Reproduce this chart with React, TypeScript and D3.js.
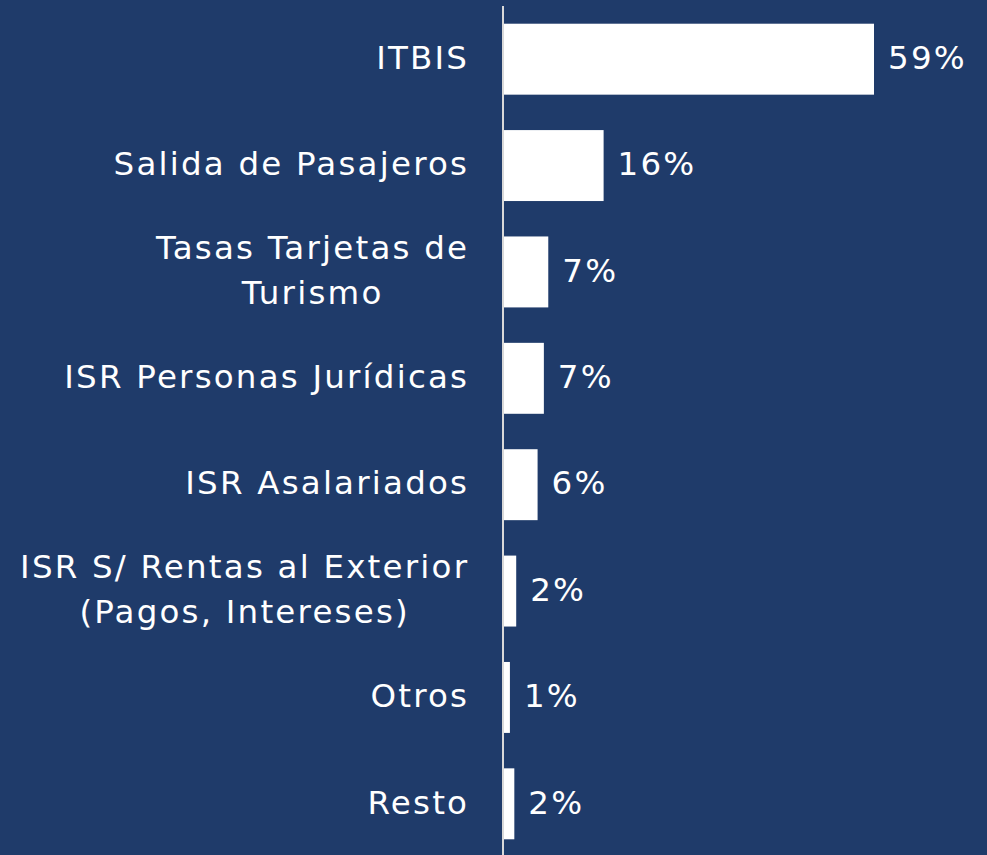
import React from "react";
import * as d3 from "d3";

const categories: string[][] = [
  ["ITBIS"],
  ["Salida de Pasajeros"],
  ["Tasas Tarjetas de", "Turismo"],
  ["ISR Personas Jurídicas"],
  ["ISR Asalariados"],
  ["ISR S/ Rentas al Exterior", "(Pagos, Intereses)"],
  ["Otros"],
  ["Resto"],
];
const values: number[] = [59.0, 16.0, 7.2, 6.5, 5.5, 2.1, 1.1, 1.8];
const valueLabels: string[] = ["59%", "16%", "7%", "7%", "6%", "2%", "1%", "2%"];

const W = 987;
const H = 855;
const BG = "#1F3B6A";
const FONT = "'DejaVu Sans', sans-serif";
const FS = 32.5;
const LS = 2.2;

function measure(text: string): number {
  const c = document.createElement("canvas").getContext("2d");
  const n = text.length;
  if (!c) return text.length * FS * 0.6 + LS * (n - 1);
  c.font = `${FS}px ${FONT}`;
  return c.measureText(text).width + LS * (n - 1);
}

export default function App() {
  const axisX = 503;
  const x = d3.scaleLinear().domain([0, 59]).range([axisX, 874]);
  const y = d3
    .scaleBand<number>()
    .domain(d3.range(categories.length))
    .range([6, 857])
    .paddingInner(0.333)
    .paddingOuter(0.1665);
  const labelRight = 467;
  const lineH = 45;

  return (
    <svg
      width={W}
      height={H}
      style={{ position: "absolute", left: 0, top: 0, display: "block" }}
    >
      <rect x={0} y={0} width={W} height={H} fill={BG} />
      {values.map((v, i) => {
        const y0 = y(i)!;
        const cy = y0 + y.bandwidth() / 2;
        const lines = categories[i];
        const maxW = Math.max(...lines.map(measure));
        return (
          <g key={i}>
            <rect x={x(0)} y={y0} width={x(v) - x(0)} height={y.bandwidth()} fill="#FFFFFF" />
            <text
              x={x(v) + 14}
              y={cy}
              dy="0.3em"
              fill="#FFFFFF"
              fontFamily={FONT}
              fontSize={FS}
              letterSpacing={LS}
            >
              {valueLabels[i]}
            </text>
            {lines.map((ln, j) => {
              const w = measure(ln);
              const left = labelRight - maxW / 2 - w / 2;
              return (
                <text
                  key={j}
                  x={left}
                  y={cy + (j - (lines.length - 1) / 2) * lineH}
                  dy="0.3em"
                  fill="#FFFFFF"
                  fontFamily={FONT}
                  fontSize={FS}
                  letterSpacing={LS}
                >
                  {ln}
                </text>
              );
            })}
          </g>
        );
      })}
      <line x1={axisX} x2={axisX} y1={6} y2={H} stroke="#D9D9D9" strokeWidth={2} />
    </svg>
  );
}
